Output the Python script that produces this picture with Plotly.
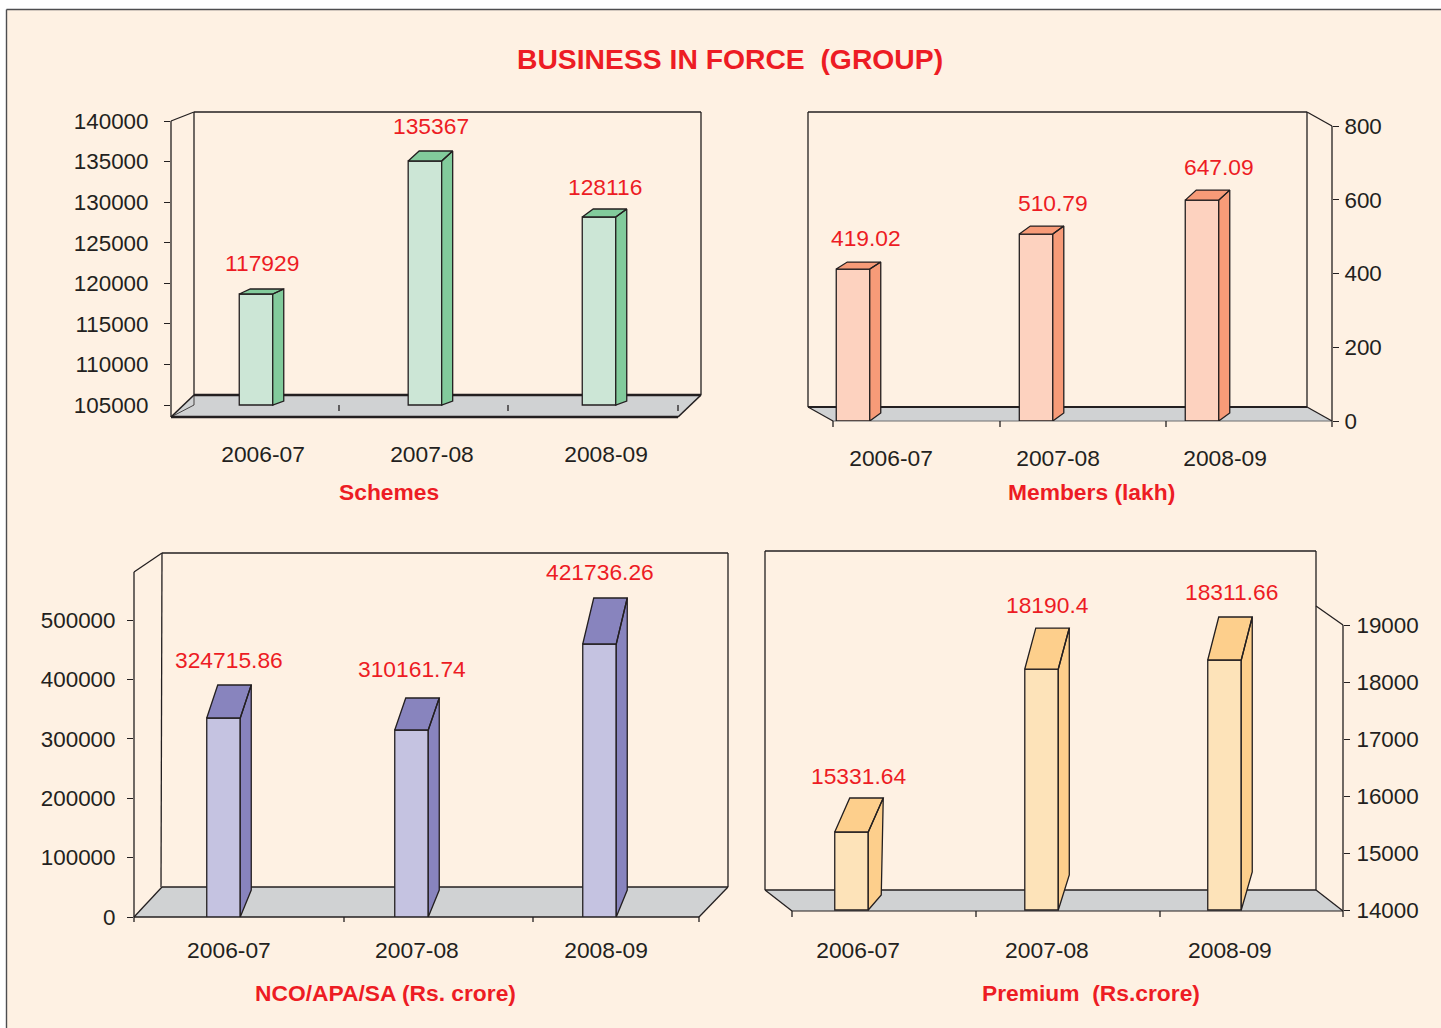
import plotly.graph_objects as go

W, H = 1441, 1028
INK = "#231F20"
RED = "#ED1C24"
CREAM = "#FEF1E3"
FLOOR = "#D0D2D3"
FONT = "Liberation Sans"
TXT = 22.8
TICK_TXT = 22.4
LW = 1.3

categories = ["2006-07", "2007-08", "2008-09"]

# Printed values and the bar heights read against each chart's own axis
# (the source's bars do not always sit where the printed value would put them).
schemes_labels = ["117929", "135367", "128116"]
schemes_heights = [118680, 135070, 128170]
schemes_ticks = [105000, 110000, 115000, 120000, 125000, 130000, 135000, 140000]

members_labels = ["419.02", "510.79", "647.09"]
members_heights = [412, 507, 599]
members_ticks = [0, 200, 400, 600, 800]

nco_labels = ["324715.86", "310161.74", "421736.26"]
nco_heights = [335000, 314800, 459600]
nco_ticks = [0, 100000, 200000, 300000, 400000, 500000]

premium_labels = ["15331.64", "18190.4", "18311.66"]
premium_heights = [15371, 18235, 18394]
premium_ticks = [14000, 15000, 16000, 17000, 18000, 19000]


def fx(x):
    return x / W


def fy(y):
    return 1 - y / H


panels = [
    dict(name="Schemes", tx=389, ty=492, labels=schemes_labels, heights=schemes_heights, ticks=schemes_ticks,
         base=105000, v0=105000, p0=405, ppu=284 / 35000, side="left", ystand=11, xstand=21,
         left=171, right=701, bottom=417, top=111, c0=256, s=171.5,
         bar_shift=[0, -0.015, 0], label_shift=[0.041, 0.026, 0.041],
         val_dx=[6, 6, 6], val_dy=[31, 35, 30],
         face="#CCE6D6", dark="#82CB9C",
         dx_top=[11, 11, 11], dx_bot=[11, 11, 11], dy_top=[5, 10, 8], dy_bot=[4, 4, 4]),
    dict(name="Members (lakh)", tx=1091, ty=492, labels=members_labels, heights=members_heights, ticks=members_ticks,
         base=0, v0=0, p0=421, ppu=295 / 800, side="right", ystand=1, xstand=21,
         left=808, right=1332, bottom=421, top=112, c0=853, s=174.5,
         bar_shift=[0, 0.049, 0], label_shift=[0.218, 0.175, 0.132],
         val_dx=[13, 17, 17], val_dy=[31, 31, 33],
         face="#FDD2BF", dark="#F79B78",
         dx_top=[11, 11, 11], dx_bot=[11, 11, 11], dy_top=[7, 8, 10], dy_bot=[8, 8, 8]),
    dict(name="NCO/APA/SA (Rs. crore)", tx=385, ty=993, labels=nco_labels, heights=nco_heights, ticks=nco_ticks,
         base=0, v0=0, p0=917, ppu=297 / 500000, side="left", ystand=7, xstand=17,
         left=134, right=728, bottom=917, top=553, c0=223.5, s=188,
         bar_shift=[0, 0, 0], label_shift=[0.029, 0.029, 0.035],
         val_dx=[5.5, 0.5, 0.5], val_dy=[58, 61, 72],
         face="#C5C3E1", dark="#8884BE",
         dx_top=[11, 11, 11], dx_bot=[11, 11, 11], dy_top=[33, 32, 46], dy_bot=[27, 27, 27]),
    dict(name="Premium\u00a0\u00a0(Rs.crore)", tx=1091, ty=993, labels=premium_labels, heights=premium_heights, ticks=premium_ticks,
         base=14000, v0=14000, p0=910, ppu=284.5 / 5000, side="right", ystand=2, xstand=23,
         left=765, right=1343, bottom=911, top=551, c0=851.5, s=186.5,
         bar_shift=[0, 0.019, 0], label_shift=[0.035, 0.048, 0.029],
         val_dx=[7.5, 5.5, 6.5], val_dy=[56, 64, 68],
         face="#FDE3B9", dark="#FDCF8C",
         dx_top=[15, 11, 11], dx_bot=[13, 11, 11], dy_top=[34, 41, 43], dy_bot=[15, 35, 38]),
]

BAR_PX = 33.5


def seg(x0, y0, x1, y1, w=LW, color=INK):
    return dict(type="line", xref="paper", yref="paper", layer="below",
                x0=fx(x0), y0=fy(y0), x1=fx(x1), y1=fy(y1), line=dict(color=color, width=w))


def poly(pts, fill):
    d = "M " + " L ".join(f"{fx(x):.5f} {fy(y):.5f}" for x, y in pts) + " Z"
    return dict(type="path", xref="paper", yref="paper", layer="below", path=d,
                fillcolor=fill, line=dict(width=0))


shapes = [
    dict(type="rect", xref="paper", yref="paper", layer="below", x0=fx(7), x1=1, y0=0, y1=fy(10),
         fillcolor=CREAM, line=dict(width=0)),
    seg(6.5, 9.5, W, 9.5, 1.4, "#4D4D4F"),
    seg(6.5, 9.5, 6.5, H, 1.4, "#4D4D4F"),
]

# Frames: walls and floors of the four 3-D boxes
# panel 1
shapes += [
    poly([(194, 395), (701, 395), (678, 417), (171, 417)], FLOOR),
    seg(194, 112, 701, 112), seg(194, 112, 194, 395), seg(701, 112, 701, 395),
    seg(171, 121, 194, 112), seg(171, 121, 171, 417),
    seg(194, 395, 701, 395, 2.4), seg(171, 417, 678, 417, 2.4),
    seg(171, 417, 194, 395, 1.6), seg(678, 417, 701, 395, 1.6),
    seg(194, 395, 194, 405, 0.8), seg(194, 405, 171, 417, 0.8),
    seg(339, 405, 339, 411), seg(508, 405, 508, 411), seg(678, 405, 678, 411),
]
# panel 2
shapes += [
    poly([(808, 407), (1307, 407), (1332, 421), (833, 421)], FLOOR),
    seg(808, 112, 1307, 112), seg(808, 112, 808, 407), seg(1307, 112, 1307, 407),
    seg(1307, 112, 1332, 126), seg(1332, 126, 1332, 427),
    seg(808, 407, 1307, 407, 1.8), seg(833, 421, 1332, 421, 1, "#6D6E71"),
    seg(808, 407, 833, 421), seg(1307, 407, 1332, 421),
    seg(833, 421, 833, 427), seg(1000, 421, 1000, 427), seg(1166, 421, 1166, 427),
]
# panel 3
shapes += [
    poly([(162, 887), (728, 887), (699, 917), (134, 917)], FLOOR),
    seg(162, 553, 728, 553), seg(162, 553, 161, 887), seg(728, 553, 728, 887),
    seg(134, 572, 162, 553), seg(134, 572, 134, 922),
    seg(162, 887, 728, 887, 1.6), seg(134, 917, 699, 917, 1.6),
    seg(134, 917, 162, 887), seg(699, 917, 728, 887),
    seg(344, 917, 344, 922), seg(533, 917, 533, 922), seg(699, 917, 699, 922),
]
# panel 4
shapes += [
    poly([(765, 890), (1316, 890), (1343, 911), (792, 911)], FLOOR),
    seg(765, 551, 1316, 551), seg(765, 551, 765, 890), seg(1316, 551, 1316, 890),
    seg(1316, 606, 1343, 625), seg(1343, 625, 1343, 917),
    seg(765, 890, 1316, 890, 1.4), seg(792, 911, 1343, 911, 1.2),
    seg(765, 890, 792, 911), seg(1316, 890, 1343, 911),
    seg(792, 911, 792, 917), seg(976, 911, 976, 917), seg(1160, 911, 1160, 917),
]

fig = go.Figure()
layout_axes = {}
annotations = []

for n, p in enumerate(panels, start=1):
    xa = "x" if n == 1 else f"x{n}"
    ya = "y" if n == 1 else f"y{n}"
    xkey = "xaxis" if n == 1 else f"xaxis{n}"
    ykey = "yaxis" if n == 1 else f"yaxis{n}"
    ppu = p["ppu"]
    val = lambda px: p["v0"] + (p["p0"] - px) / ppu
    xu = 1 / p["s"]  # index units per pixel
    idx = list(range(len(categories)))
    xs = [i + d for i, d in zip(idx, p["bar_shift"])]
    half = BAR_PX / 2 * xu

    fig.add_trace(go.Bar(
        x=xs, y=[h - p["base"] for h in p["heights"]], base=p["base"], width=BAR_PX * xu,
        marker=dict(color=p["face"], line=dict(color=INK, width=LW)),
        xaxis=xa, yaxis=ya, hoverinfo="skip", showlegend=False))

    px_, py_ = [], []
    for j, h in enumerate(p["heights"]):
        xl, xr = xs[j] - half, xs[j] + half
        dxt, dxb = p["dx_top"][j] * xu, p["dx_bot"][j] * xu
        dyt, dyb = p["dy_top"][j] / ppu, p["dy_bot"][j] / ppu
        b = p["base"]
        # top face
        px_ += [xl, xr, xr + dxt, xl + dxt, xl, None]
        py_ += [h, h, h + dyt, h + dyt, h, None]
        # side face
        px_ += [xr, xr + dxt, xr + dxb, xr, xr, None]
        py_ += [h, h + dyt, b + dyb, b, h, None]
    fig.add_trace(go.Scatter(
        x=px_, y=py_, mode="lines", fill="toself", fillcolor=p["dark"],
        line=dict(color=INK, width=LW), xaxis=xa, yaxis=ya,
        hoverinfo="skip", showlegend=False))

    layout_axes[xkey] = dict(
        domain=[fx(p["left"]), fx(p["right"])], anchor=ya, type="linear", automargin=False,
        range=[(p["left"] - p["c0"]) * xu, (p["right"] - p["c0"]) * xu],
        tickmode="array", tickvals=[i + d for i, d in zip(idx, p["label_shift"])], ticktext=categories,
        ticks="", ticklabelstandoff=p["xstand"],
        showgrid=False, zeroline=False, showline=False,
        tickfont=dict(family=FONT, size=TXT, color=INK))
    layout_axes[ykey] = dict(
        domain=[fy(p["bottom"]), fy(p["top"])], anchor=xa, side=p["side"], type="linear", automargin=False,
        range=[val(p["bottom"]), val(p["top"])],
        tickmode="array", tickvals=p["ticks"], ticktext=[str(t) for t in p["ticks"]],
        ticks="outside", ticklen=6, tickwidth=1.2, tickcolor=INK,
        ticklabelstandoff=p["ystand"],
        showgrid=False, zeroline=False, showline=False,
        tickfont=dict(family=FONT, size=TICK_TXT, color=INK))

    for j, h in enumerate(p["heights"]):
        annotations.append(dict(
            xref=xa, yref=ya, x=xs[j], y=h, text=p["labels"][j], showarrow=False,
            xshift=p["val_dx"][j], yshift=p["val_dy"][j], xanchor="center", yanchor="middle",
            font=dict(family=FONT, size=TXT, color=RED)))

    annotations.append(dict(
        xref="paper", yref="paper", x=fx(p["tx"]), y=fy(p["ty"]), text=f"<b>{p['name']}</b>",
        showarrow=False, xanchor="center", yanchor="middle",
        font=dict(family=FONT, size=TXT, color=RED)))

annotations.append(dict(
    xref="paper", yref="paper", x=fx(730), y=fy(59),
    text="<b>BUSINESS IN FORCE\u00a0\u00a0(GROUP)</b>", showarrow=False,
    xanchor="center", yanchor="middle", font=dict(family=FONT, size=28.3, color=RED)))

fig.update_layout(
    width=W, height=H, margin=dict(l=0, r=0, t=0, b=0, pad=0, autoexpand=False),
    paper_bgcolor="white", plot_bgcolor="rgba(0,0,0,0)",
    shapes=shapes, annotations=annotations, showlegend=False, barmode="overlay",
    font=dict(family=FONT), **layout_axes)

fig.write_html("out.html", config=dict(displayModeBar=False),
               post_script="document.body.style.margin='0';document.body.style.overflow='hidden';")
